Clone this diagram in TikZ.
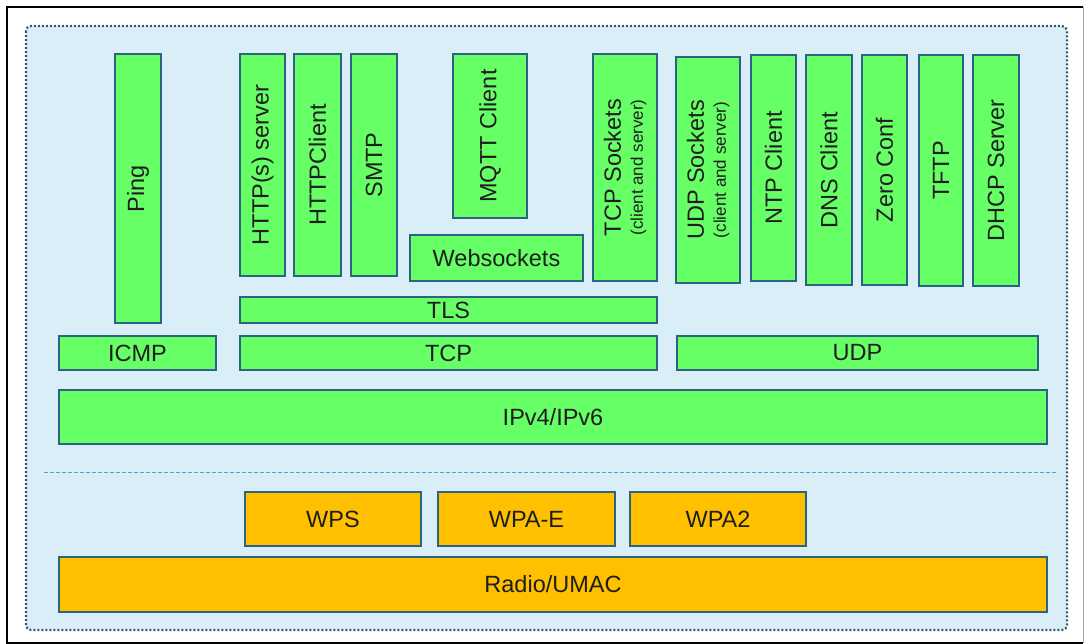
\documentclass[tikz,border=0pt]{standalone}
\usepackage{fontspec}
\setmainfont{Liberation Sans}
\definecolor{gfill}{RGB}{102,255,102}
\definecolor{ofill}{RGB}{255,192,0}
\definecolor{bline}{RGB}{42,100,130}
\definecolor{pfill}{RGB}{218,238,247}
\definecolor{pdots}{RGB}{55,85,120}
\definecolor{dline}{RGB}{80,160,200}
\definecolor{txt}{RGB}{30,30,30}
\tikzset{
  blk/.style={draw=bline, line width=2.5pt, inner sep=0pt, text=txt,
    font=\fontsize{23.5}{25}\selectfont, align=center},
  gbox/.style={blk, fill=gfill},
  obox/.style={blk, fill=ofill},
  vbox/.style={gbox, rotate=90}
}
\newcommand{\smalltxt}[1]{{\fontsize{17}{18}\selectfont #1}}
\begin{document}
\begin{tikzpicture}[x=1pt,y=-1pt]
\useasboundingbox (0,0) rectangle (1085,644);
% outer frame
\draw[black, line width=2.5pt] (1083,7) -- (7,7) -- (7,643) -- (1083,643);
\draw[gray!70, line width=1pt] (1083,7) -- (1083,643);
% panel
\draw[pdots, line width=2.2pt, dash pattern=on 2pt off 2pt, fill=pfill, rounded corners=5pt] (26,26) rectangle (1067,630);
% vertical application boxes
\node[vbox, minimum width=269, minimum height=46] (ping) at (138,188.5) {Ping};
\node[vbox, minimum width=222, minimum height=45] (https) at (262.5,165) {HTTP(s) server};
\node[vbox, minimum width=222, minimum height=47] (httpc) at (317.5,165) {HTTPClient};
\node[vbox, minimum width=222, minimum height=46] (smtp) at (374,165) {SMTP};
\node[vbox, minimum width=164, minimum height=74] (mqtt) at (490,136) {MQTT Client};
\node[gbox, minimum width=173, minimum height=46] (ws) at (496.5,258) {Websockets};
\node[vbox, minimum width=227, minimum height=64] (tcps) at (625,167.5) {TCP Sockets\\[-3pt]\smalltxt{(client and server)}};
\node[vbox, minimum width=226, minimum height=64] (udps) at (708,170) {UDP Sockets\\[-3pt]\smalltxt{(client and server)}};
\node[vbox, minimum width=226, minimum height=45] (ntp) at (773.5,168) {NTP Client};
\node[vbox, minimum width=230, minimum height=46] (dns) at (829,170) {DNS Client};
\node[vbox, minimum width=230, minimum height=45] (zero) at (884.5,170) {Zero Conf};
\node[vbox, minimum width=231, minimum height=44] (tftp) at (941,170.5) {TFTP};
\node[vbox, minimum width=231, minimum height=46] (dhcp) at (996,170.5) {DHCP Server};
% horizontal layers
\node[gbox, minimum width=417, minimum height=26] (tls) at (448.5,310) {TLS};
\node[gbox, minimum width=157, minimum height=34] (icmp) at (137.5,353) {ICMP};
\node[gbox, minimum width=417, minimum height=34] (tcp) at (448.5,353) {TCP};
\node[gbox, minimum width=361, minimum height=34] (udp) at (857.5,353) {UDP};
\node[gbox, minimum width=988, minimum height=54] (ip) at (553,417) {IPv4/IPv6};
% separator
\coordinate (sepL) at (44,472);
\coordinate (sepR) at (1058,472);
\draw[dline, line width=1pt, dash pattern=on 4pt off 2pt] (sepL) -- (sepR);
% wifi layers
\node[obox, minimum width=176, minimum height=54] (wps) at (333,519) {WPS};
\node[obox, minimum width=177, minimum height=54] (wpae) at (526.5,519) {WPA-E};
\node[obox, minimum width=176, minimum height=54] (wpa2) at (718,519) {WPA2};
\node[obox, minimum width=988, minimum height=55] (radio) at (553,584.5) {Radio/UMAC};
\end{tikzpicture}
\end{document}
